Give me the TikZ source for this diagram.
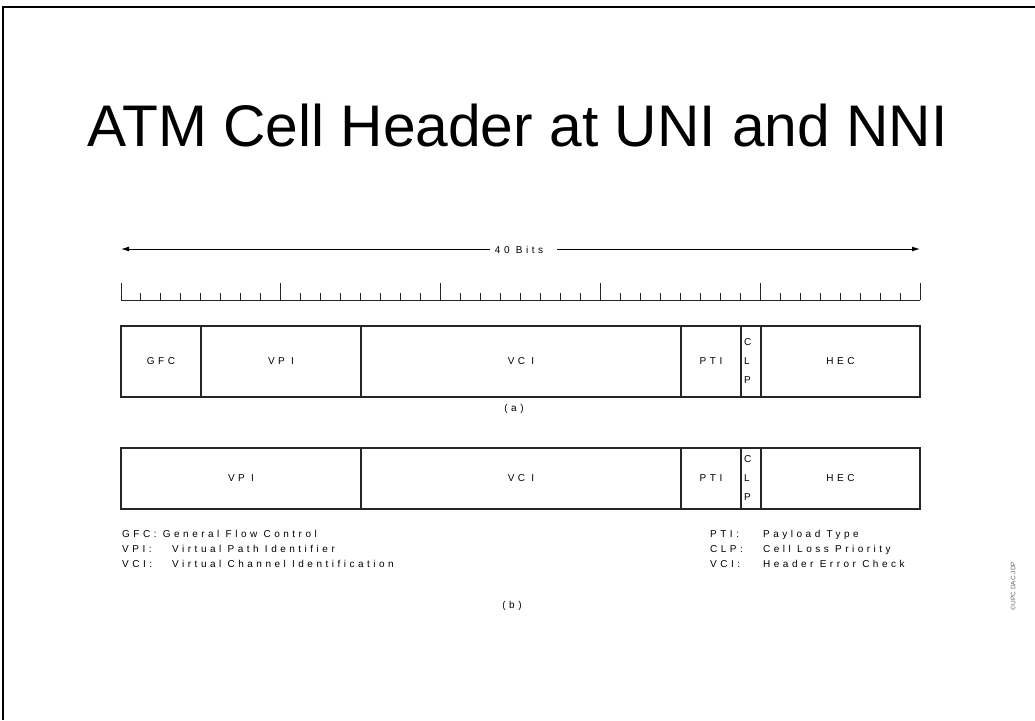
\documentclass[tikz,border=0pt]{standalone}
\usepackage{fontspec}
\setmainfont{Liberation Sans}
\newfontfamily\spaced[LetterSpace=35]{Liberation Sans}
\usetikzlibrary{arrows.meta}
\begin{document}
\begin{tikzpicture}[x=1pt,y=-1pt,
  field/.style={draw=black!85, line width=1.2pt, inner sep=0pt, outer sep=0pt,
    font=\spaced\fontsize{10}{12}\selectfont},
  small/.style={inner sep=0pt, font=\spaced\fontsize{10}{12}\selectfont},
  stack/.style={inner sep=0pt, align=left, font=\fontsize{10}{19}\selectfont},
  tick/.style={line width=1pt, draw=black!85},
  bitarrow/.style={line width=1pt, -{Latex[length=8pt,width=5pt]}}]
\useasboundingbox (0,0) rectangle (1035,720);
\fill[white] (0,0) rectangle (1035,720);
% frame
\draw[line width=2pt] (3,720) -- (3,7) -- (1035,7);
% title
\node[anchor=base, inner sep=0pt, font=\fontsize{58.7}{70}\selectfont] (title) at (517.5,146) {ATM Cell Header at UNI and NNI};
% 40 bits arrow
\node[small, inner xsep=5pt] (bits) at (519,250) {40 Bits};
\coordinate (bl) at (121,249);
\coordinate (br) at (920,249);
\draw[bitarrow] (bits.west |- bl) -- (bl);
\draw[bitarrow] ([xshift=9pt]bits.east |- br) -- (br);
% ruler
\draw[tick] (121,300) -- (920,300);
\foreach \i in {0,...,40}{
  \pgfmathsetmacro{\tx}{121+19.975*\i}
  \pgfmathsetmacro{\ty}{ifthenelse(mod(\i,8)==0,283,293)}
  \draw[tick] (\tx,300) -- (\tx,\ty);
}
% (a) header
\node[field, minimum width=80pt,  minimum height=71pt] (gfcA) at (161,361.5) {GFC};
\node[field, minimum width=160pt, minimum height=71pt] (vpiA) at (281,361.5) {VP I};
\node[field, minimum width=320pt, minimum height=71pt] (vciA) at (521,361.5) {VC I};
\node[field, minimum width=60pt,  minimum height=71pt] (ptiA) at (711,361.5) {PTI};
\node[field, minimum width=20pt,  minimum height=71pt] (clpA) at (751,361.5) {};
\node[field, minimum width=159pt, minimum height=71pt] (hecA) at (840.5,361.5) {HEC};
\node[stack, anchor=west] (clpAt) at ([xshift=3pt]clpA.west) {C\\L\\P};
\node[small] (capA) at (514,409) {(a)};
% (b) header
\node[field, minimum width=240pt, minimum height=61pt] (vpiB) at (241,478.5) {VP I};
\node[field, minimum width=320pt, minimum height=61pt] (vciB) at (521,478.5) {VC I};
\node[field, minimum width=60pt,  minimum height=61pt] (ptiB) at (711,478.5) {PTI};
\node[field, minimum width=20pt,  minimum height=61pt] (clpB) at (751,478.5) {};
\node[field, minimum width=159pt, minimum height=61pt] (hecB) at (840.5,478.5) {HEC};
\node[stack, anchor=west] (clpBt) at ([xshift=3pt]clpB.west) {C\\L\\P};
% legend
\node[small, anchor=base west] (lg1) at (122,537) {GFC: General Flow Control};
\node[small, anchor=base west] (lg2a) at (122,552) {VPI:};
\node[small, anchor=base west] (lg2b) at (172,552) {Virtual Path Identifier};
\node[small, anchor=base west] (lg3a) at (122,567) {VCI:};
\node[small, anchor=base west] (lg3b) at (172,567) {Virtual Channel Identification};
\node[small, anchor=base west] (lr1a) at (710,537) {PTI:};
\node[small, anchor=base west] (lr1b) at (763,537) {Payload Type};
\node[small, anchor=base west] (lr2a) at (710,552) {CLP:};
\node[small, anchor=base west] (lr2b) at (763,552) {Cell Loss Priority};
\node[small, anchor=base west] (lr3a) at (710,567) {VCI:};
\node[small, anchor=base west] (lr3b) at (763,567) {Header Error Check};
\node[small] (capB) at (512,606) {(b)};
% copyright
\node[rotate=90, inner sep=0pt, text=black!60, font=\fontsize{6.5}{8}\selectfont] (copy) at (1013,586) {©UPC DAC JDP};
\end{tikzpicture}
\end{document}
